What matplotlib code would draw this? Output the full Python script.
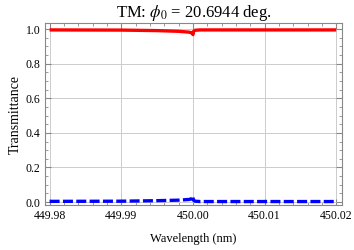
import matplotlib
matplotlib.use("Agg")
import matplotlib.pyplot as plt
from matplotlib.ticker import MultipleLocator, FormatStrFormatter

plt.rcParams["font.family"] = ["Liberation Serif", "DejaVu Serif"]
plt.rcParams["mathtext.fontset"] = "stix"

# ── Datos ────────────────────────────────────────────────────────────────────
wl_tm = [449.98, 449.99, 449.995, 449.998, 449.9995, 449.99995, 450.0,
         450.00005, 450.0003, 450.001, 450.005, 450.01, 450.02]
t_tm = [0.995, 0.994, 0.991, 0.987, 0.982, 0.975, 0.968,
        0.985, 0.993, 0.995, 0.995, 0.995, 0.995]
r_tm = [0.004, 0.005, 0.008, 0.011, 0.015, 0.022, 0.034,
        0.012, 0.005, 0.003, 0.003, 0.003, 0.003]

RED = "#ff0000"
BLUE = "#0000ff"
GRID_CLR = "#cccccc"
FRAME_CLR = "#888888"

fig, ax = plt.subplots(figsize=(3.54, 2.5), dpi=100)
fig.subplots_adjust(left=0.128, right=0.966, top=0.908, bottom=0.18)

ax.plot(wl_tm, t_tm, color=RED, linewidth=2.4, solid_capstyle="butt")
ax.plot(wl_tm, r_tm, color=BLUE, linewidth=2.4, linestyle=(0, (3, 1)))

ax.set_xlim(449.9794, 450.0208)
ax.set_ylim(-0.017, 1.035)
ax.xaxis.set_major_locator(MultipleLocator(0.01))
ax.xaxis.set_minor_locator(MultipleLocator(0.002))
ax.yaxis.set_major_locator(MultipleLocator(0.2))
ax.yaxis.set_minor_locator(MultipleLocator(0.05))
ax.xaxis.set_major_formatter(FormatStrFormatter("%.2f"))
ax.yaxis.set_major_formatter(FormatStrFormatter("%.1f"))

ax.grid(which="major", color=GRID_CLR, linewidth=0.7)
ax.tick_params(which="both", direction="in", top=True, right=True,
               colors=FRAME_CLR, labelcolor="black", labelsize=8.5)
ax.tick_params(which="major", length=4)
ax.tick_params(which="minor", length=2)
for spine in ax.spines.values():
    spine.set_edgecolor(FRAME_CLR)

ax.set_xlabel("Wavelength (nm)", fontsize=9, labelpad=8)
ax.set_ylabel("Transmittance", fontsize=10, labelpad=3)
ax.set_title(r"TM: $\phi_0$ = 20.6944 deg.", fontsize=12, pad=3)

fig.savefig("out.png", dpi=100)
